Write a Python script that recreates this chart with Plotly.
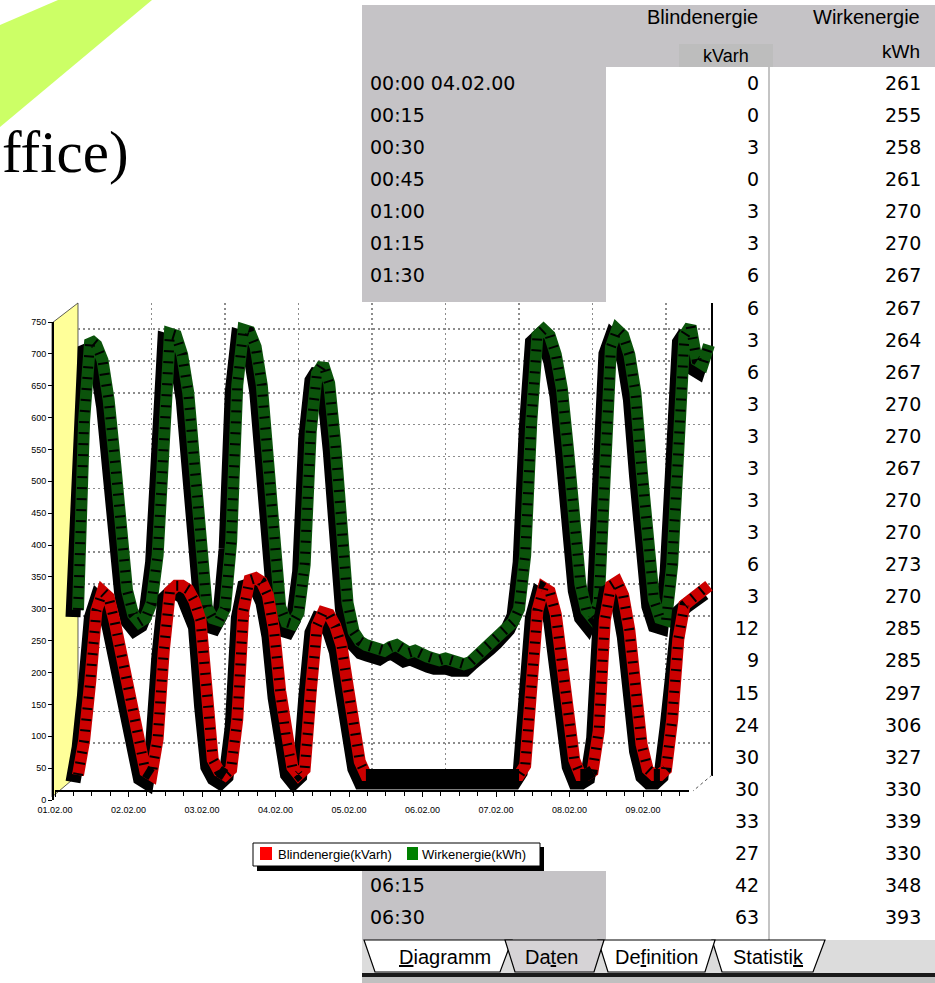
import pandas as pd
import plotly.graph_objects as go

# ---------------- data ----------------
chart_start = "2000-02-01 00:00"
chart_step = "2h"
# Wirkenergie (kWh), every 2 hours
wirkenergie_kwh = [
    259, 557, 683, 675, 651, 589, 495, 370, 290, 252, 240, 246,
    270, 345, 555, 693, 690, 660, 600, 480, 342, 264, 246, 243,
    261, 366, 612, 699, 696, 672, 612, 480, 345, 264, 240, 237,
    255, 330, 540, 630, 645, 615, 520, 390, 270, 225, 210, 204,
    201, 198, 195, 201, 204, 198, 192, 195, 189, 186, 183, 180,
    183, 180, 177, 174, 177, 186, 192, 201, 210, 219, 228, 240,
    261, 345, 555, 690, 699, 690, 660, 606, 510, 390, 300, 258,
    246, 270, 480, 672, 699, 690, 660, 600, 480, 360, 276, 246,
    243, 330, 555, 690, 705, 651, 645, 675]
# Blindenergie (kVarh), every 2 hours
blindenergie_kvarh = [
    0, 54, 147, 258, 288, 279, 240, 195, 147, 99, 51, 6,
    0, 57, 195, 288, 297, 297, 291, 273, 243, 118, 24, 6,
    0, 9, 87, 258, 306, 309, 303, 282, 228, 132, 54, 12,
    0, 9, 132, 234, 255, 252, 234, 204, 141, 81, 21, 0,
    0, 0, 0, 0, 0, 0, 0, 0, 0, 0, 0, 0,
    0, 0, 0, 0, 0, 0, 0, 0, 0, 0, 0, 0,
    0, 15, 132, 258, 294, 288, 252, 171, 87, 24, 0, 0,
    6, 69, 243, 297, 303, 282, 228, 132, 48, 9, 0, 0,
    9, 87, 213, 267, 276, 282, 291, 297]
day_labels = ["01.02.00", "02.02.00", "03.02.00", "04.02.00", "05.02.00",
              "06.02.00", "07.02.00", "08.02.00", "09.02.00"]
y_tick_values = [0, 50, 100, 150, 200, 250, 300, 350, 400, 450, 500, 550, 600, 650, 700, 750]

# table ("Daten" tab)
table_times = ["00:00 04.02.00", "00:15", "00:30", "00:45", "01:00", "01:15", "01:30",
               "01:45", "02:00", "02:15", "02:30", "02:45", "03:00", "03:15", "03:30",
               "03:45", "04:00", "04:15", "04:30", "04:45", "05:00", "05:15", "05:30",
               "05:45", "06:00", "06:15", "06:30"]
table_blind = [0, 0, 3, 0, 3, 3, 6, 6, 3, 6, 3, 3, 3, 3, 3, 6, 3, 12, 9, 15, 24, 30, 30, 33, 27, 42, 63]
table_wirk = [261, 255, 258, 261, 270, 270, 267, 267, 264, 267, 270, 270, 267, 270, 270, 273, 270,
              285, 285, 297, 306, 327, 330, 339, 330, 348, 393]
tab_names = ["<u>D</u>iagramm", "Da<u>t</u>en", "De<u>f</u>inition", "Statisti<u>k</u>"]

# ---------------- geometry helpers ----------------
W, H = 935, 983


def px(x):
    return x / W


def py(y):
    return 1 - y / H


def path(pts):
    return "M " + " L ".join(f"{px(x):.5f},{py(y):.5f}" for x, y in pts) + " Z"


t0 = pd.Timestamp(chart_start)
times = pd.date_range(t0, periods=len(wirkenergie_kwh), freq=chart_step)

X0, X1 = 78, 712        # back plane, pixels
Y0, Y1 = 775, 303
HOURS = 207
YMAX = 741
PXH = (X1 - X0) / HOURS
PXU = (Y0 - Y1) / YMAX


def xr(h):
    return (t0 + pd.Timedelta(hours=h)).strftime("%Y-%m-%d %H:%M:%S")


fig = go.Figure()

# ---------------- axes ----------------
GRID = dict(showgrid=True, griddash="2px,3px", gridcolor="#8c8c8c", gridwidth=1.5)
layout_axes = {}
layout_axes["xaxis"] = dict(domain=[px(X0), px(X1)], range=[xr(0), xr(HOURS)], type="date",
                            tickvals=[xr(24 * d) for d in range(9)], showticklabels=False,
                            ticks="", zeroline=False, showline=False, anchor="y",
                            automargin=False, **GRID)
layout_axes["yaxis"] = dict(domain=[py(Y0), py(Y1)], range=[0, YMAX],
                            tickvals=y_tick_values, showticklabels=False, ticks="",
                            zeroline=False, showline=False, anchor="x", automargin=False, **GRID)
# front edge axes (3D offset)
layout_axes["xaxis2"] = dict(domain=[px(55), px(689)], range=[xr(0), xr(HOURS)], type="date",
                             anchor="free", position=py(791), automargin=False,
                             tickvals=[xr(24 * d) for d in range(9)], ticktext=day_labels,
                             ticks="outside", ticklen=5, tickcolor="black", tickwidth=1,
                             minor=dict(dtick=6 * 3600 * 1000, ticks="outside", ticklen=4,
                                        tickcolor="black"),
                             tickfont=dict(family="Liberation Sans", size=9, color="black"),
                             ticklabelstandoff=5,
                             showgrid=False, zeroline=False, showline=True, linecolor="black",
                             linewidth=2)
layout_axes["yaxis2"] = dict(domain=[py(800), py(322)], range=[0, 750], anchor="free",
                             position=px(52), automargin=False, tickvals=y_tick_values,
                             ticks="outside", ticklen=4, tickcolor="black",
                             tickfont=dict(family="Liberation Sans", size=9, color="black"),
                             showgrid=False, zeroline=False, showline=True, linecolor="black",
                             linewidth=1.5)


def trace_axes(i, dx, dy, pad=45):
    layout_axes[f"xaxis{i}"] = dict(domain=[px(X0 + dx - pad), px(X1 + dx + pad)],
                                    range=[xr(-pad / PXH), xr(HOURS + pad / PXH)],
                                    type="date", visible=False, anchor=f"y{i}",
                                    automargin=False)
    layout_axes[f"yaxis{i}"] = dict(domain=[py(Y0 + dy + pad), py(Y1 + dy - pad)],
                                    range=[-pad / PXU, YMAX + pad / PXU],
                                    visible=False, anchor=f"x{i}", automargin=False)


trace_axes(3, -5, 7)   # green shadow
trace_axes(4, 0, 0)    # green
trace_axes(5, -5, 7)   # red shadow
trace_axes(6, 0, 0)    # red

# ---------------- traces ----------------
fig.add_trace(go.Scatter(x=[], y=[], xaxis="x", yaxis="y", showlegend=False, hoverinfo="skip"))
fig.add_trace(go.Scatter(x=[], y=[], xaxis="x2", yaxis="y2", showlegend=False, hoverinfo="skip"))

series = [(wirkenergie_kwh, "#0b530b", 3, 4), (blindenergie_kvarh, "#cc0000", 5, 6)]
for vals, col, sh, main in series:
    fig.add_trace(go.Scatter(x=times, y=vals, mode="lines", xaxis=f"x{sh}", yaxis=f"y{sh}",
                             line=dict(color="black", width=15), showlegend=False,
                             hoverinfo="skip"))
    fig.add_trace(go.Scatter(x=times, y=vals, mode="lines", xaxis=f"x{main}", yaxis=f"y{main}",
                             line=dict(color=col, width=12), showlegend=False))
    fig.add_trace(go.Scatter(x=times, y=vals, mode="lines", xaxis=f"x{main}", yaxis=f"y{main}",
                             line=dict(color="black", width=10, dash="2px,9px"),
                             showlegend=False, hoverinfo="skip"))

# Blindenergie resting on the floor is drawn dark, like the 3D ribbon's top face
floor_part = [v if v <= 6 else None for v in blindenergie_kvarh]
fig.add_trace(go.Scatter(x=times, y=floor_part, mode="lines", xaxis="x6", yaxis="y6",
                         line=dict(color="black", width=12), connectgaps=False,
                         showlegend=False, hoverinfo="skip"))

# ---------------- shapes ----------------
shapes = []


def rect(x0, y0, x1, y1, fill, line=None, lw=0):
    shapes.append(dict(type="rect", xref="paper", yref="paper", x0=px(x0), x1=px(x1),
                       y0=py(y1), y1=py(y0), fillcolor=fill,
                       line=dict(color=line or fill, width=lw), layer="below"))


def poly(pts, fill, line=None, lw=0):
    shapes.append(dict(type="path", xref="paper", yref="paper", path=path(pts), fillcolor=fill,
                       line=dict(color=line or fill, width=lw), layer="below"))


def seg(x0, y0, x1, y1, col, lw, dash=None):
    d = dict(type="line", xref="paper", yref="paper", x0=px(x0), y0=py(y0), x1=px(x1), y1=py(y1),
             line=dict(color=col, width=lw), layer="below")
    if dash:
        d["line"]["dash"] = dash
    shapes.append(d)


GRAY = "#c5c3c6"
# slide decoration
poly([(0, 25), (58, 0), (152, 0), (0, 127)], "#ccff66")
# table window
rect(362, 5, 935, 940, GRAY)
rect(606, 67, 935, 940, "white")
seg(769, 67, 769, 940, "#b0b0b0", 1.5)
rect(679, 44, 773, 67, "#bdbdbd")
# tab strip
rect(362, 940, 935, 973, "#dcdcdc")
rect(362, 973, 935, 977, "#1a1a1a")
rect(362, 977, 935, 983, "#c0c0c0")
tabs = [(712, 825, 722, 813), (598, 715, 608, 705), (364, 512, 375, 500), (505, 604, 515, 594)]
for i, (a, b, c, d) in enumerate(tabs):
    fill = "#d6d3d6" if i == 3 else "white"
    poly([(a, 940), (c, 972), (d, 972), (b, 940)], fill, "black", 1.2)
# chart window cover
rect(0, 302, 716, 871, "white")
# yellow wall
poly([(52, 323), (78, 303), (78, 775), (52, 797)], "#ffff99", "#333333", 0.8)
# back plane right border
seg(712, 303, 712, 776, "black", 2)
seg(712, 775, 693, 791, "#555555", 1, "dot")
# legend
rect(257, 847, 544, 871, "black")
rect(253, 843, 540, 866, "white", "black", 1)
rect(260, 847, 272, 860, "#ff0000")
rect(407, 847, 418, 860, "#008000")

# ---------------- annotations ----------------
ann = []


def text(x, y, s, size, anchor="left", family="DejaVu Sans", color="black"):
    ann.append(dict(x=px(x), y=py(y), xref="paper", yref="paper", text=s, showarrow=False,
                    xanchor=anchor, yanchor="middle",
                    font=dict(family=family, size=size, color=color)))


text(0, 152, "ffice)", 59, "left", "Liberation Serif")
text(760, 17, "Blindenergie", 20, "right", "Liberation Sans")
text(922, 17, "Wirkenergie", 20, "right", "Liberation Sans")
text(922, 52, "kWh", 19, "right", "Liberation Sans")
text(726, 56, "kVarh", 18, "center", "Liberation Sans")

for i, (t, b, w) in enumerate(zip(table_times, table_blind, table_wirk)):
    yy = 83 + 32.08 * i
    if yy + 8 < 302 or yy - 8 > 871:
        text(368, yy, t, 19, "left")
    text(761, yy, str(b), 19, "right")
    text(923, yy, str(w), 19, "right")

for name, cx in zip(tab_names, [445, 551, 656, 768]):
    text(cx, 957, name, 20, "center", "Liberation Sans")

text(276, 854, "Blindenergie(kVarh)", 13, "left", "Liberation Sans")
text(420, 854, "Wirkenergie(kWh)", 13, "left", "Liberation Sans")

fig.update_layout(width=W, height=H, margin=dict(l=0, r=0, t=0, b=0, pad=0, autoexpand=False),
                  paper_bgcolor="white", plot_bgcolor="rgba(0,0,0,0)",
                  showlegend=False, shapes=shapes, annotations=ann, **layout_axes)
fig.write_html("out.html", config={"displayModeBar": False, "staticPlot": True},
               post_script="document.documentElement.style.margin='0';"
                           "document.body.style.margin='0';"
                           "document.body.style.overflow='hidden';")
